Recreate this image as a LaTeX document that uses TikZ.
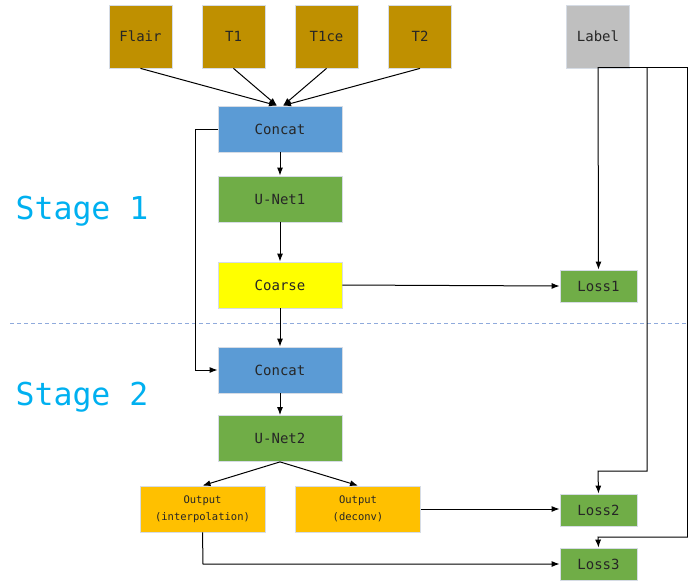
\documentclass[tikz,border=0pt]{standalone}
\usepackage{fontspec}
\setmainfont{DejaVu Sans Mono}
\usetikzlibrary{arrows.meta}
\definecolor{gold}{HTML}{BF9000}
\definecolor{lblgray}{HTML}{BFBFBF}
\definecolor{cblue}{HTML}{5B9BD5}
\definecolor{cgreen}{HTML}{70AD47}
\definecolor{cyellow}{HTML}{FFFF00}
\definecolor{corange}{HTML}{FFC000}
\definecolor{stagecol}{HTML}{00B0F0}
\definecolor{dashcol}{HTML}{8FAADC}
\definecolor{edgecol}{HTML}{D6DCE5}
\begin{document}
\begin{tikzpicture}[x=1pt,y=-1pt,
  box/.style={draw=edgecol,line width=0.8pt,inner sep=0pt,align=center,text=black!85,font=\fontsize{14}{16}\selectfont},
  modal/.style={box,fill=gold,minimum width=63pt,minimum height=63pt},
  mid/.style={box,minimum width=124pt,minimum height=46pt},
  loss/.style={box,fill=cgreen,minimum width=77pt,minimum height=32pt},
  outbox/.style={box,fill=corange,minimum width=125pt,minimum height=46pt,font=\fontsize{10.5}{17}\selectfont},
  arr/.style={-{Latex[length=8pt,width=6pt]},line width=1pt},
  ln/.style={line width=1pt},
  stage/.style={text=stagecol,font=\fontsize{31.5}{33}\selectfont}]
\useasboundingbox (0,0) rectangle (688,582);
\node[modal] (flair) at (140.5,36.5) {Flair};
\node[modal] (t1) at (233.5,36.5) {T1};
\node[modal] (t1ce) at (326.5,36.5) {T1ce};
\node[modal] (t2) at (420,36.5) {T2};
\node[modal,fill=lblgray] (label) at (598,36.5) {Label};
\node[mid,fill=cblue] (concat1) at (280,129) {Concat};
\node[mid,fill=cgreen] (unet1) at (280,199) {U-Net1};
\node[mid,fill=cyellow] (coarse) at (280,285) {Coarse};
\node[mid,fill=cblue] (concat2) at (280,370) {Concat};
\node[mid,fill=cgreen] (unet2) at (280,438.5) {U-Net2};
\node[outbox] (outi) at (202.5,509) {Output\\(interpolation)};
\node[outbox] (outd) at (358,509) {Output\\(deconv)};
\node[loss] (loss1) at (598.5,286) {Loss1};
\node[loss] (loss2) at (598.5,510) {Loss2};
\node[loss] (loss3) at (598.5,564) {Loss3};
\node[stage] (s1) at (82,211) {Stage 1};
\node[stage] (s2) at (82,397) {Stage 2};
\coordinate (dl) at (10,323);
\coordinate (dr) at (688,323);
\draw[dashcol,line width=0.8pt,dash pattern=on 4pt off 3pt] (dl) -- (dr);
% inputs to concat
\draw[arr] (flair.south) -- ([xshift=-3pt]concat1.north);
\draw[arr] (t1.south) -- ([xshift=-3pt]concat1.north);
\draw[arr] (t1ce.south) -- ([xshift=3pt]concat1.north);
\draw[arr] (t2.south) -- ([xshift=3pt]concat1.north);
\draw[arr] (concat1) -- (unet1);
\draw[arr] (unet1) -- (coarse);
\draw[arr] (coarse) -- (concat2);
\draw[arr] (concat1.west) -- (195,129) -- (195,370) -- (concat2.west);
\draw[arr] (concat2) -- (unet2);
\draw[arr] (unet2.south) -- (outi.north);
\draw[arr] (unet2.south) -- (outd.north);
\draw[arr] (coarse.east) -- (loss1.west);
\draw[arr] (outd.east) -- (outd.east -| loss2.west);
\draw[arr] (outi.south) -- (203,564) -- (loss3.west);
% label lines
\coordinate (lbr) at (687.5,67);
\draw[ln] (598,67) -- (lbr);
\draw[arr] (598,67) -- (loss1.north);
\draw[arr] (647,67) -- (647,471) -- (598,471) -- (loss2.north);
\draw[arr] (lbr) -- (687.5,537) -- (598,537) -- (loss3.north);
\end{tikzpicture}
\end{document}
